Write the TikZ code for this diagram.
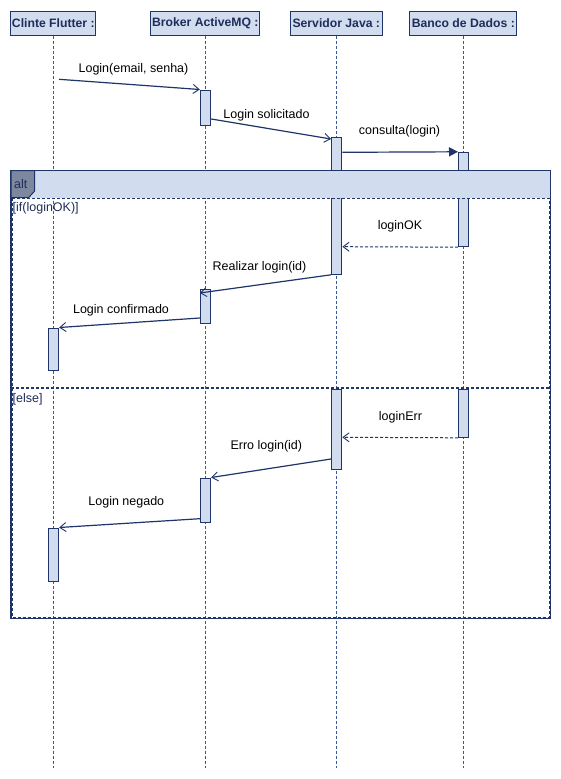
\documentclass[tikz,border=0pt]{standalone}
\usepackage{fontspec}
\setmainfont{Liberation Sans}
\usetikzlibrary{arrows.meta,calc}
\definecolor{navy}{HTML}{1F3469}
\definecolor{fillb}{HTML}{D2DCEF}
\definecolor{lifec}{HTML}{3B5696}
\definecolor{tabc}{HTML}{7D879E}
\definecolor{txtn}{HTML}{1F2D5A}
\tikzset{
  head/.style={draw=navy, fill=fillb, line width=1pt, minimum height=24pt, inner sep=0pt, text=txtn, font=\fontsize{12.2}{14}\selectfont\bfseries},
  life/.style={draw=lifec, line width=0.9pt, dash pattern=on 3pt off 2pt},
  actbar/.style={draw=navy, fill=fillb, line width=1pt, minimum width=10.4pt, inner sep=0pt},
  msg/.style={draw=navy, line width=1.2pt, -{Straight Barb[length=6pt,width=9pt,line width=0.9pt]}},
  call/.style={draw=navy, line width=1.2pt, -{Triangle[length=9pt,width=9pt]}},
  reply/.style={draw=navy, line width=1pt, dash pattern=on 3pt off 2pt, -{Straight Barb[length=6pt,width=9pt,line width=0.9pt]}},
  lbl/.style={text=black, inner sep=0pt},
  guard/.style={text=txtn, inner sep=0pt, anchor=west},
}
\begin{document}
\begin{tikzpicture}[x=1pt,y=-1pt, font=\fontsize{12.5}{14}\selectfont]
\useasboundingbox (0,0) rectangle (561,779);
\fill[white] (0,0) rectangle (561,779);

% headers
\node[head, minimum width=85pt] (cl) at (53.3,23) {Clinte Flutter :};
\node[head, minimum width=109pt] (br) at (205.3,23) {Broker ActiveMQ :};
\node[head, minimum width=92pt] (sv) at (336.3,23) {Servidor Java :};
\node[head, minimum width=107pt] (db) at (463.3,23) {Banco de Dados :};

% lifeline ends
\coordinate (clE) at (53.3,768);
\coordinate (brE) at (205.3,768);
\coordinate (svE) at (336.3,768);
\coordinate (dbE) at (463.3,768);
\draw[life] (cl.south) -- (clE);
\draw[life] (br.south) -- (brE);
\draw[life] (sv.south) -- (svE);
\draw[life] (db.south) -- (dbE);

% activation bars
\node[actbar, minimum height=35.3pt] (a1) at (205.5,107.65) {};
\node[actbar, minimum height=137.3pt] (s1) at (336.7,205.65) {};
\node[actbar, minimum height=94.4pt] (d1) at (463.7,199.5) {};
\node[actbar, minimum height=34pt] (a2) at (205.5,306.3) {};
\node[actbar, minimum height=42.3pt] (c1) at (53.5,349.15) {};
\node[actbar, minimum height=80.3pt] (s2) at (336.7,429.15) {};
\node[actbar, minimum height=48.3pt] (d2) at (463.7,413.15) {};
\node[actbar, minimum height=44.3pt] (a3) at (205.5,500.15) {};
\node[actbar, minimum height=53.3pt] (c2) at (53.5,554.65) {};

% messages
\coordinate (m1s) at (59,79.3);
\draw[msg] (m1s) -- (a1.north west);
\draw[msg] (a1.east |- 0,119) -- (s1.west |- 0,139);
\draw[call] (s1.east |- 0,152.3) -- (d1.north west);
\draw[reply] (d1.south west) -- (s1.east |- 0,246.7);
\draw[msg] (s1.south west) -- (a2.west |- 0,293);
\draw[msg] (a2.west |- 0,318) -- (c1.north east);
\draw[reply] (d2.south west) -- (s2.east |- 0,437.3);
\draw[msg] (s2.west |- 0,459) -- (a3.north east);
\draw[msg] (a3.west |- 0,518.7) -- (c2.north east);

% message labels
\node[lbl] (l1) at (133.5,69) {Login(email, senha)};
\node[lbl] (l2) at (266.5,115) {Login solicitado};
\node[lbl] (l3) at (399.5,131) {consulta(login)};
\node[lbl] (l4) at (400,226.5) {loginOK};
\node[lbl] (l5) at (259.5,267) {Realizar login(id)};
\node[lbl] (l6) at (121,310.7) {Login confirmado};
\node[lbl] (l7) at (400.5,417.5) {loginErr};
\node[lbl] (l8) at (266.3,446) {Erro login(id)};
\node[lbl] (l9) at (126.3,502.7) {Login negado};

% alt frame
\fill[fillb] (11,170.7) rectangle (550.3,198);
\draw[navy, line width=1pt, dash pattern=on 3pt off 2pt] (12.1,198) -- (549.2,198);
\draw[navy, line width=1pt, dash pattern=on 3pt off 2pt] (12.1,198) -- (12.1,617.4) -- (549.2,617.4) -- (549.2,198);
\draw[navy, line width=1.2pt] (11,170.7) rectangle (550.3,618.5);
\draw[navy, line width=2pt, dash pattern=on 3pt off 2pt] (11,388.3) -- (550.3,388.3);
\filldraw[fill=tabc, draw=navy, line width=1pt] (11,170.7) -- (34.7,170.7) -- (34.7,191) -- (28.7,197.5) -- (11,197.5) -- cycle;
\node[guard, text=txtn] (alt) at (14,184) {alt};
\node[guard] (g1) at (12.5,208.3) {[if(loginOK)]};
\node[guard] (g2) at (12.5,399) {[else]};
\end{tikzpicture}
\end{document}
